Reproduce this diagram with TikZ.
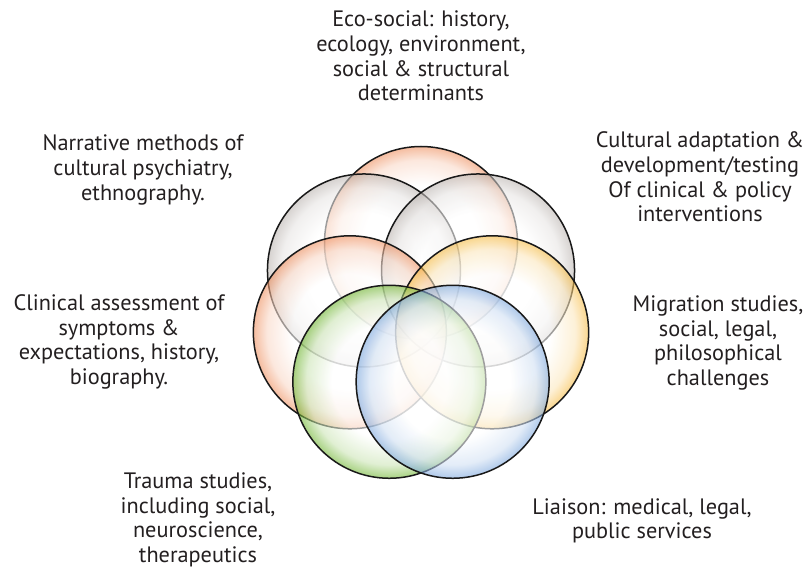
\documentclass[tikz,border=0pt]{standalone}
\usepackage{fontspec}
\setmainfont{PT Sans}
\usetikzlibrary{calc,positioning}
\definecolor{inkgrey}{RGB}{35,31,32}
\definecolor{petalorange}{RGB}{238,140,90}
\definecolor{petalgrey}{RGB}{185,178,174}
\definecolor{petalyellow}{RGB}{246,185,60}
\definecolor{petalgreen}{RGB}{105,178,40}
\definecolor{petalblue}{RGB}{118,163,220}
\colorlet{petal}{petalorange}
\pgfdeclareradialshading[petal]{petalshade}{\pgfpointorigin}{color(0bp)=(white); color(15bp)=(white); color(21.5bp)=(petal!35!white); color(25bp)=(petal); color(50bp)=(petal)}

\begin{document}
\begin{tikzpicture}[x=1pt,y=-1pt]
  \tikzstyle{topic}=[align=center, text=inkgrey, font=\fontsize{22.3}{24.6}\selectfont]
  \tikzstyle{petalring}=[shading=petalshade, opacity=0.58]
  \tikzstyle{petaledge}=[line width=1.5pt, black!90]
  \useasboundingbox (0,0) rectangle (808,572);
  \coordinate (hub) at (421,316);

  % seven overlapping circles, lowest first
  \foreach \ang/\col in {270/petalorange, 218.6/petalgrey, 321.4/petalgrey,
      167.1/petalorange, 12.9/petalyellow, 115.7/petalgreen, 64.3/petalblue}{
    \colorlet{petal}{\col}
    \shade[petalring] ($(hub)+(\ang:73)$) circle (96.5);
    \draw[petaledge] ($(hub)+(\ang:73)$) circle (96.5);
  }

  \node[topic] (eco) at (421,56) {Eco-social: history,\\ecology, environment,\\social \& structural\\determinants};
  \node[topic] (narrative) at (143,170) {Narrative methods of\\cultural psychiatry,\\ethnography.};
  \node[topic] (adaptation) at (700,177) {Cultural adaptation \&\\development/testing\\Of clinical \& policy\\interventions};
  \node[topic] (clinical) at (119,342) {Clinical assessment of\\symptoms \&\\expectations, history,\\biography.};
  \node[topic] (migration) at (718,343) {Migration studies,\\social, legal,\\philosophical\\challenges};
  \node[topic] (trauma) at (198,520) {Trauma studies,\\including social,\\neuroscience,\\therapeutics};
  \node[topic] (liaison) at (642,521) {Liaison: medical, legal,\\public services};
\end{tikzpicture}
\end{document}
